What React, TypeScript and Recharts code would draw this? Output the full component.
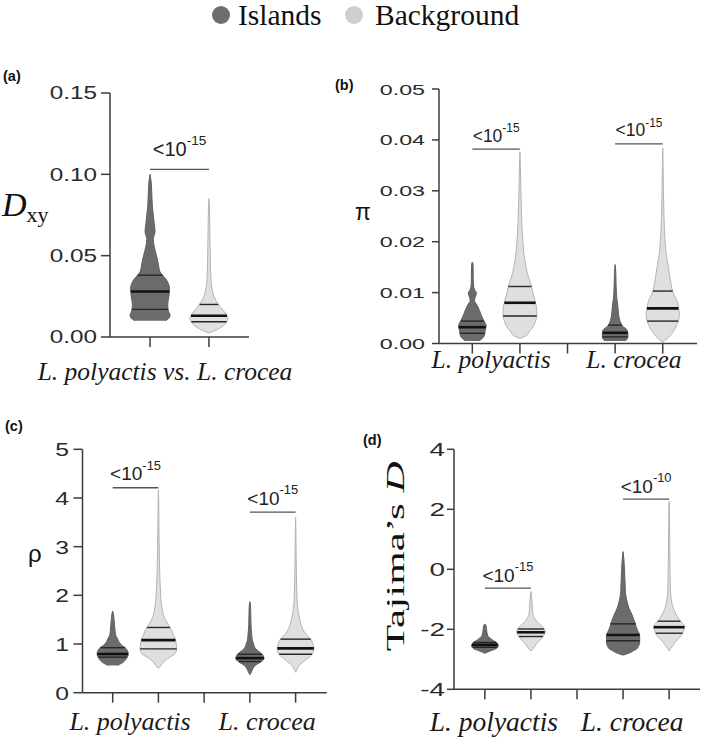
import React from "react";
import { ComposedChart, Area, XAxis, YAxis, ReferenceLine } from "recharts";

const SERIF = '"Liberation Serif", "Times New Roman", serif';
const SANS = '"Liberation Sans", Arial, sans-serif';
const DARK = "#6b6b6b";
const DARK_EDGE = "#5f5f5f";
const LIGHT = "#dfdfdf";
const LIGHT_EDGE = "#b3b3b3";
const AXIS = "#3c3c3c";

const species = ["L. polyactis", "L. crocea"];
const pairLabel = ["L. polyactis vs. L. crocea"];

// (a) Dxy — violin half-widths (in slot units) read at each grid value
const dxyTicks = [0, 0.05, 0.1, 0.15];
const dxyGrid = [0.0025, 0.005, 0.0075, 0.01, 0.0115, 0.0135, 0.016, 0.02, 0.025, 0.03, 0.035, 0.04, 0.045, 0.05, 0.055, 0.06, 0.065, 0.07, 0.075, 0.08, 0.085, 0.09, 0.095, 0.1];
const dxyIslands = [null, null, null, 0.26, 0.32, 0.34, 0.31, 0.3, 0.32, 0.33, 0.28, 0.17, 0.14, 0.11, 0.075, 0.055, 0.085, 0.07, 0.055, 0.04, 0.033, 0.028, 0.02, 0];
const dxyBackground = [0, 0.16, 0.26, 0.31, 0.325, 0.3, 0.25, 0.16, 0.085, 0.05, 0.035, 0.028, 0.024, 0.022, 0.02, 0.017, 0.015, 0.013, 0.011, 0.008, 0, null, null, null];
const dxyIslandsQ = [0.017, 0.028, 0.038];
const dxyBackgroundQ = [0.0094, 0.0131, 0.02];
const dxySigAt = [0.103];
const dxySigExp = ["-15"];

// (b) pi
const piTicks = [0, 0.01, 0.02, 0.03, 0.04, 0.05];
const piGrid = [0.0002, 0.0005, 0.001, 0.0015, 0.0025, 0.0035, 0.0045, 0.0055, 0.0065, 0.0075, 0.0085, 0.0095, 0.01, 0.0105, 0.0115, 0.0125, 0.014, 0.0155, 0.016, 0.0175, 0.02, 0.0225, 0.025, 0.03, 0.035, 0.0377, 0.0384];
const piIslandsLp = [null, 0.14, 0.21, 0.25, 0.27, 0.29, 0.24, 0.19, 0.15, 0.1, 0.045, 0.075, 0.085, 0.05, 0.025, 0.02, 0.018, 0.015, 0, null, null, null, null, null, null, null, null];
const piBackgroundLp = [null, null, 0, 0.12, 0.21, 0.29, 0.33, 0.355, 0.355, 0.34, 0.315, 0.285, 0.27, 0.26, 0.235, 0.2, 0.15, 0.12, 0.11, 0.085, 0.063, 0.045, 0.035, 0.02, 0.01, 0, null];
const piIslandsLc = [null, 0.21, 0.26, 0.27, 0.26, 0.15, 0.1, 0.075, 0.065, 0.055, 0.04, 0.03, 0.028, 0.025, 0.02, 0.018, 0.014, 0, null, null, null, null, null, null, null, null, null];
const piBackgroundLc = [0, 0.03, 0.1, 0.15, 0.23, 0.29, 0.33, 0.35, 0.34, 0.32, 0.295, 0.24, 0.22, 0.2, 0.18, 0.16, 0.135, 0.11, 0.1, 0.075, 0.05, 0.035, 0.027, 0.014, 0.007, 0.003, 0];
const piIslandsLpQ = [0.002, 0.0032, 0.0044];
const piBackgroundLpQ = [0.0054, 0.008, 0.0112];
const piIslandsLcQ = [0.0013, 0.0021, 0.0036];
const piBackgroundLcQ = [0.0044, 0.0069, 0.0103];
const piSigAt = [0.0382, 0.0392];
const piSigExp = ["-15", "-15"];

// (c) rho
const rhoTicks = [0, 1, 2, 3, 4, 5];
const rhoGrid = [0.37, 0.42, 0.5, 0.56, 0.62, 0.7, 0.8, 0.9, 1.0, 1.1, 1.2, 1.3, 1.4, 1.5, 1.6, 1.68, 1.8, 1.87, 2.0, 2.3, 2.6, 3.0, 3.3, 3.6, 3.9, 4.16];
const rhoIslandsLp = [null, null, null, 0.1, 0.22, 0.3, 0.34, 0.3, 0.17, 0.11, 0.06, 0.05, 0.04, 0.03, 0.02, 0, null, null, null, null, null, null, null, null, null, null];
const rhoBackgroundLp = [null, null, 0, 0.06, 0.1, 0.2, 0.36, 0.4, 0.39, 0.37, 0.32, 0.28, 0.21, 0.15, 0.11, 0.09, 0.07, 0.06, 0.05, 0.035, 0.025, 0.017, 0.013, 0.01, 0.007, 0];
const rhoIslandsLc = [0, 0.03, 0.07, 0.12, 0.22, 0.31, 0.26, 0.13, 0.08, 0.05, 0.04, 0.03, 0.025, 0.022, 0.02, 0.018, 0.012, 0, null, null, null, null, null, null, null, null];
const rhoBackgroundLc = [null, 0, 0.04, 0.08, 0.15, 0.26, 0.37, 0.4, 0.38, 0.33, 0.23, 0.16, 0.12, 0.09, 0.07, 0.055, 0.04, 0.035, 0.03, 0.02, 0.015, 0.01, 0.007, 0, null, null];
const rhoIslandsLpQ = [0.73, 0.795, 0.925];
const rhoBackgroundLpQ = [0.9, 1.08, 1.34];
const rhoIslandsLcQ = [0.64, 0.71, 0.79];
const rhoBackgroundLcQ = [0.79, 0.91, 1.1];
const rhoSigAt = [4.21, 3.71];
const rhoSigExp = ["-15", "-15"];

// (d) Tajima's D
const tdTicks = [-4, -2, 0, 2, 4];
const tdGrid = [-2.86, -2.8, -2.72, -2.65, -2.55, -2.45, -2.35, -2.2, -2.05, -1.9, -1.82, -1.7, -1.5, -1.3, -1.0, -0.74, -0.5, 0, 0.3, 0.59, 1.0, 1.5, 2.0, 2.26];
const tdIslandsLp = [null, 0, 0.12, 0.24, 0.29, 0.26, 0.16, 0.06, 0.04, 0.03, 0, null, null, null, null, null, null, null, null, null, null, null, null, null];
const tdBackgroundLp = [null, null, 0, 0.05, 0.09, 0.14, 0.2, 0.28, 0.31, 0.24, 0.18, 0.11, 0.045, 0.03, 0.02, 0, null, null, null, null, null, null, null, null];
const tdIslandsLc = [0, 0.12, 0.22, 0.3, 0.34, 0.36, 0.36, 0.36, 0.32, 0.28, 0.27, 0.24, 0.19, 0.13, 0.075, 0.05, 0.045, 0.03, 0.02, 0, null, null, null, null];
const tdBackgroundLc = [null, null, 0, 0.03, 0.08, 0.12, 0.18, 0.27, 0.31, 0.34, 0.3, 0.23, 0.15, 0.09, 0.045, 0.03, 0.025, 0.02, 0.018, 0.015, 0.013, 0.01, 0.007, 0];
const tdIslandsLpQ = [-2.6, -2.52, -2.44];
const tdBackgroundLpQ = [-2.24, -2.1, -1.99];
const tdIslandsLcQ = [-2.38, -2.19, -1.82];
const tdBackgroundLcQ = [-2.13, -1.93, -1.73];
const tdSigAt = [-0.63, 2.34];
const tdSigExp = ["-15", "-10"];

// half-width at a quartile
function widthAt(grid: number[], widths: (number | null)[], q: number) {
  for (let i = 0; i < grid.length - 1; i++) {
    const a = widths[i];
    const b = widths[i + 1];
    if (a == null || b == null) continue;
    if (q >= grid[i] && q <= grid[i + 1]) {
      const t = (q - grid[i]) / (grid[i + 1] - grid[i]);
      return a + (b - a) * t;
    }
  }
  return 0;
}

function NumTick(props: any) {
  const { x, y, payload, fs, sx, fmt } = props;
  return (
    <g transform={`translate(${x},${y})`}>
      <text transform={`scale(${sx},1)`} textAnchor="end" dy="0.36em" fontFamily={SANS} fontSize={fs} fill="#2a2a2a">
        {fmt(payload.value)}
      </text>
    </g>
  );
}

// x ticks: slot positions get a tick mark, group centres get the species name
function SlotTick(props: any) {
  const { x, y, payload, groupTicks, labels, fs, base, dx } = props;
  const gi = groupTicks.indexOf(payload.value);
  if (gi >= 0) {
    return (
      <text x={x + dx} y={y + base} textAnchor="middle" fontFamily={SERIF} fontStyle="italic" fontSize={fs} fill="#1a1a1a">
        {labels[gi]}
      </text>
    );
  }
  return <line x1={x} y1={y} x2={x} y2={y + 10} stroke={AXIS} strokeWidth={1.5} />;
}

function SigLabel(props: any) {
  const { viewBox, exp, size, gap } = props;
  if (!viewBox) return null;
  const cx = viewBox.x + viewBox.width / 2;
  return (
    <text x={cx} y={viewBox.y - gap} textAnchor="middle" fontFamily={SANS} fontSize={size} fill="#222">
      <tspan>{"<10"}</tspan>
      <tspan dy={-size * 0.55} fontSize={size * 0.68}>{exp}</tspan>
    </text>
  );
}

function Title(props: any) {
  const { viewBox, kind } = props;
  if (!viewBox) return null;
  const cy = viewBox.y + viewBox.height / 2;
  const x0 = viewBox.x;
  if (kind === "dxy") {
    return (
      <text x={x0 + 2} y={cy + 1} fontFamily={SERIF} fontSize={34} fontStyle="italic" fill="#111">
        D<tspan fontStyle="normal" fontSize={22} dy={6}>xy</tspan>
      </text>
    );
  }
  if (kind === "pi") {
    return <text x={x0 + 25} y={cy + 4} fontFamily={SANS} fontSize={23} fill="#111">π</text>;
  }
  if (kind === "rho") {
    return <text x={x0 + 28} y={cy - 9} fontFamily={SANS} fontSize={24} fill="#111">ρ</text>;
  }
  const tx = x0 + 54;
  const ty = cy - 13;
  return (
    <text x={tx} y={ty} transform={`rotate(-90 ${tx} ${ty})`} textAnchor="middle" fontFamily={SERIF} fontSize={26} fill="#111" textLength={190} lengthAdjust="spacingAndGlyphs">
      Tajima’s <tspan fontStyle="italic">D</tspan>
    </text>
  );
}

function ViolinPanel(p: any) {
  const rows = p.grid.map((v: number, i: number) => {
    const r: any = { v };
    p.violins.forEach((vl: any) => {
      const w = vl.widths[i];
      r[vl.key] = w == null ? [null, null] : [vl.pos - w, vl.pos + w];
    });
    return r;
  });
  const xTicks = [...p.slots, ...p.groupTicks].sort((a: number, b: number) => a - b);

  return (
    <div style={{ position: "absolute", left: p.left, top: p.top, width: p.width, height: p.height }}>
      <ComposedChart layout="vertical" width={p.width} height={p.height} data={rows} margin={p.margin}>
        <XAxis xAxisId="m" type="number" domain={p.xDomain} allowDataOverflow ticks={xTicks} interval={0}
          tickLine={false} tickSize={0} tickMargin={0} height={40} stroke={AXIS} strokeWidth={1.5}
          tick={<SlotTick groupTicks={p.groupTicks} labels={p.groupLabels} fs={p.labFs} base={p.labBase} dx={p.labDx} />} />
        <YAxis yAxisId="y" type="number" dataKey="v" reversed domain={p.yDomain} allowDataOverflow ticks={p.yTicks}
          interval={0} width={p.yWidth} tickSize={p.tickSize} tickMargin={p.tickMargin} stroke={AXIS} strokeWidth={1.5}
          tick={<NumTick fs={p.tickFs} sx={p.tickSx} fmt={p.fmt} />} label={<Title kind={p.title} />} />
        {p.violins.map((vl: any) => (
          <Area key={vl.key} xAxisId="m" yAxisId="y" dataKey={vl.key} type="monotone"
            fill={vl.dark ? DARK : LIGHT} fillOpacity={1} stroke={vl.dark ? DARK_EDGE : LIGHT_EDGE} strokeWidth={1}
            dot={false} activeDot={false} isAnimationActive={false} />
        ))}
        {p.violins.flatMap((vl: any) =>
          vl.quart.map((q: number, j: number) => {
            const w = widthAt(p.grid, vl.widths, q);
            return (
              <ReferenceLine key={`${vl.key}-q${j}`} xAxisId="m" yAxisId="y" ifOverflow="visible"
                segment={[{ x: vl.pos - w, y: q }, { x: vl.pos + w, y: q }]}
                stroke={j === 1 ? "#111" : "#262626"} strokeWidth={j === 1 ? 2.6 : 1.4} />
            );
          })
        )}
        {p.sigAt.map((at: number, j: number) => (
          <ReferenceLine key={`sig${j}`} xAxisId="m" yAxisId="y" ifOverflow="visible"
            segment={[{ x: p.pairs[j][0], y: at }, { x: p.pairs[j][1], y: at }]}
            stroke="#555" strokeWidth={1.3}
            label={<SigLabel exp={p.sigExp[j]} size={p.sigFs} gap={p.sigGap} />} />
        ))}
      </ComposedChart>
    </div>
  );
}

const fix2 = (v: number) => v.toFixed(2);
const plain = (v: number) => String(v);

export default function App() {
  const slots4 = [1, 2, 3, 4, 5];
  return (
    <div style={{ position: "absolute", left: 0, top: 0, width: 709, height: 741, background: "#fff" }}>
      <svg width={709} height={741} style={{ position: "absolute", left: 0, top: 0 }}>
        <circle cx={221} cy={15} r={9} fill="#6e6e6e" />
        <text x={238} y={25} fontFamily={SERIF} fontSize={29.5} fill="#111">Islands</text>
        <circle cx={354} cy={15} r={9} fill="#cfcfcf" />
        <text x={375} y={25} fontFamily={SERIF} fontSize={29.5} fill="#111">Background</text>
        <text x={3} y={81} fontFamily={SANS} fontWeight="bold" fontSize={14.5} fill="#111">(a)</text>
        <text x={335} y={89.5} fontFamily={SANS} fontWeight="bold" fontSize={14.5} fill="#111">(b)</text>
        <text x={5} y={430.5} fontFamily={SANS} fontWeight="bold" fontSize={14.5} fill="#111">(c)</text>
        <text x={363} y={445} fontFamily={SANS} fontWeight="bold" fontSize={14.5} fill="#111">(d)</text>
      </svg>

      <ViolinPanel
        left={0} top={60} width={300} height={340}
        margin={{ top: 33, right: 51, bottom: 23, left: 0 }}
        yWidth={110} xDomain={[0.32, 2.68]} yDomain={[0, 0.15]} yTicks={dxyTicks} fmt={fix2}
        tickFs={18} tickSx={1.35} tickSize={9} tickMargin={4}
        slots={[1, 2]} groupTicks={[1.5]} groupLabels={pairLabel} labFs={25.5} labBase={43} labDx={-14.5}
        title="dxy" grid={dxyGrid}
        violins={[
          { key: "isl", pos: 1, widths: dxyIslands, quart: dxyIslandsQ, dark: true },
          { key: "bg", pos: 2, widths: dxyBackground, quart: dxyBackgroundQ, dark: false },
        ]}
        sigAt={dxySigAt} sigExp={dxySigExp} pairs={[[1, 2]]} sigFs={20} sigGap={13}
      />

      <ViolinPanel
        left={330} top={60} width={379} height={340}
        margin={{ top: 29, right: 12, bottom: 16.5, left: 0 }}
        yWidth={109} xDomain={[0.3, 5.72]} yDomain={[0, 0.05]} yTicks={piTicks} fmt={fix2}
        tickFs={15.5} tickSx={1.5} tickSize={7} tickMargin={7}
        slots={slots4} groupTicks={[1.5, 4.5]} groupLabels={species} labFs={25.5} labBase={24.8} labDx={-5}
        title="pi" grid={piGrid}
        violins={[
          { key: "islLp", pos: 1, widths: piIslandsLp, quart: piIslandsLpQ, dark: true },
          { key: "bgLp", pos: 2, widths: piBackgroundLp, quart: piBackgroundLpQ, dark: false },
          { key: "islLc", pos: 4, widths: piIslandsLc, quart: piIslandsLcQ, dark: true },
          { key: "bgLc", pos: 5, widths: piBackgroundLc, quart: piBackgroundLcQ, dark: false },
        ]}
        sigAt={piSigAt} sigExp={piSigExp} pairs={[[1, 2], [4, 5]]} sigFs={17.5} sigGap={7.5}
      />

      <ViolinPanel
        left={0} top={420} width={340} height={321}
        margin={{ top: 29.3, right: 13.3, bottom: 8.3, left: 0 }}
        yWidth={82.5} xDomain={[0.34, 5.68]} yDomain={[0, 5]} yTicks={rhoTicks} fmt={plain}
        tickFs={19} tickSx={1.3} tickSize={9} tickMargin={4.5}
        slots={slots4} groupTicks={[1.5, 4.5]} groupLabels={species} labFs={26} labBase={37.3} labDx={-5.5}
        title="rho" grid={rhoGrid}
        violins={[
          { key: "islLp", pos: 1, widths: rhoIslandsLp, quart: rhoIslandsLpQ, dark: true },
          { key: "bgLp", pos: 2, widths: rhoBackgroundLp, quart: rhoBackgroundLpQ, dark: false },
          { key: "islLc", pos: 4, widths: rhoIslandsLc, quart: rhoIslandsLcQ, dark: true },
          { key: "bgLc", pos: 5, widths: rhoBackgroundLc, quart: rhoBackgroundLcQ, dark: false },
        ]}
        sigAt={rhoSigAt} sigExp={rhoSigExp} pairs={[[1, 2], [4, 5]]} sigFs={19} sigGap={7.5}
      />

      <ViolinPanel
        left={350} top={420} width={359} height={321}
        margin={{ top: 29.3, right: 9, bottom: 11.7, left: 0 }}
        yWidth={104} xDomain={[0.33, 5.67]} yDomain={[-4, 4]} yTicks={tdTicks} fmt={plain}
        tickFs={18} tickSx={1.55} tickSize={7} tickMargin={2}
        slots={slots4} groupTicks={[1.5, 4.5]} groupLabels={species} labFs={27.5} labBase={41.4} labDx={-14}
        title="td" grid={tdGrid}
        violins={[
          { key: "islLp", pos: 1, widths: tdIslandsLp, quart: tdIslandsLpQ, dark: true },
          { key: "bgLp", pos: 2, widths: tdBackgroundLp, quart: tdBackgroundLpQ, dark: false },
          { key: "islLc", pos: 4, widths: tdIslandsLc, quart: tdIslandsLcQ, dark: true },
          { key: "bgLc", pos: 5, widths: tdBackgroundLc, quart: tdBackgroundLcQ, dark: false },
        ]}
        sigAt={tdSigAt} sigExp={tdSigExp} pairs={[[1, 2], [4, 5]]} sigFs={19} sigGap={6.5}
      />
    </div>
  );
}
